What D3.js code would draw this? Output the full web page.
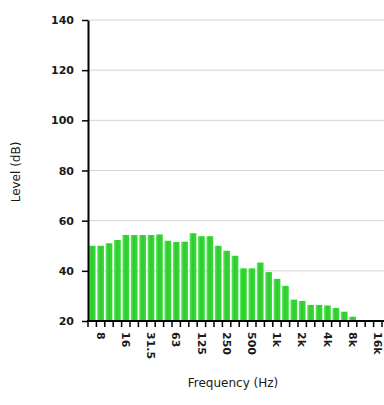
<!DOCTYPE html>
<html>
<head>
<meta charset="utf-8">
<script src="https://cdn.jsdelivr.net/npm/d3@7"></script>
<style>
  html, body { margin: 0; padding: 0; background: #fff; }
  svg { display: block; }
  text { font-family: "DejaVu Sans", Verdana, sans-serif; fill: #1a1a1a; }
</style>
</head>
<body>
<script>
// Third-octave band centre frequencies (Hz)
const bands = ["6.3","8","10","12.5","16","20","25","31.5","40","50","63","80","100","125","160","200","250","315","400","500","630","800","1k","1.25k","1.6k","2k","2.5k","3.15k","4k","5k","6.3k","8k","10k","12.5k","16k","20k"];
// Labelled bands on the axis
const bandLabels = ["8","16","31.5","63","125","250","500","1k","2k","4k","8k","16k"];
// Levels (dB)
const levels = [50,50,51,52.3,54.3,54.3,54.3,54.3,54.5,52,51.5,51.6,55,53.8,53.8,50,48,46,41,41,43.3,39.5,36.8,34,28.5,28,26.4,26.4,26.2,25.2,23.7,21.7,20.4,20,20,20];
const yTicks = [20,40,60,80,100,120,140];
const gridValues = [40,60,80,100,120,140];

const W = 384, H = 405;
const mLeft = 88, mTop = 20, mBottom = 321;
const step = 8.4;

const svg = d3.select("body").append("svg").attr("width", W).attr("height", H);

const x = d3.scaleBand().domain(bands).range([mLeft, mLeft + bands.length * step]).paddingInner(0.2).paddingOuter(0.1);
const y = d3.scaleLinear().domain([20, 140]).range([mBottom, mTop]);

// gridlines
svg.append("g").selectAll("line").data(gridValues).join("line")
  .attr("x1", mLeft).attr("x2", W)
  .attr("y1", d => y(d)).attr("y2", d => y(d))
  .attr("stroke", "#d4d4d4").attr("stroke-width", 1);

// gradient for bars
const defs = svg.append("defs");
const grad = defs.append("linearGradient").attr("id", "barGrad").attr("x1", "0").attr("x2", "1").attr("y1", "0").attr("y2", "0");
grad.append("stop").attr("offset", "0%").attr("stop-color", "#5ee85e");
grad.append("stop").attr("offset", "40%").attr("stop-color", "#2dcc2d");
grad.append("stop").attr("offset", "100%").attr("stop-color", "#3ad83a");

// bars
svg.append("g").selectAll("rect").data(bands).join("rect")
  .attr("x", d => x(d))
  .attr("width", x.bandwidth())
  .attr("y", (d, i) => y(levels[i]))
  .attr("height", (d, i) => y(20) - y(levels[i]))
  .attr("fill", "url(#barGrad)");

// y axis
const yAxis = d3.axisLeft(y).tickValues(yTicks).tickSize(6).tickSizeOuter(0).tickPadding(8);
const gy = svg.append("g").attr("transform", `translate(${mLeft},0)`).call(yAxis);
gy.select(".domain").attr("stroke", "#000").attr("stroke-width", 2);
gy.selectAll(".tick line").attr("stroke", "#000").attr("stroke-width", 1.5);
gy.selectAll(".tick text").style("font-size", "11px").style("font-weight", "bold").attr("fill", "#1a1a1a");

// x axis: baseline, boundary ticks, rotated labels
svg.append("line").attr("x1", mLeft - 1).attr("x2", W).attr("y1", mBottom).attr("y2", mBottom)
  .attr("stroke", "#000").attr("stroke-width", 2);
const boundaries = bands.map(b => x(b) - x.step() * x.paddingInner() / 2);
boundaries.push(x(bands[bands.length - 1]) + x.bandwidth() + x.step() * x.paddingInner() / 2);
svg.append("g").selectAll("line").data(boundaries).join("line")
  .attr("x1", d => d).attr("x2", d => d)
  .attr("y1", mBottom).attr("y2", mBottom + 6)
  .attr("stroke", "#000").attr("stroke-width", 1.5);

svg.append("g").selectAll("text").data(bandLabels).join("text")
  .attr("transform", d => `translate(${x(d) + x.bandwidth() / 2},${mBottom + 11}) rotate(90)`)
  .attr("text-anchor", "start")
  .attr("dy", "0.35em")
  .style("font-size", "11px")
  .style("font-weight", "bold")
  .text(d => d);

// axis titles
svg.append("text")
  .attr("transform", `translate(20,172) rotate(-90)`)
  .attr("text-anchor", "middle")
  .style("font-size", "12px")
  .text("Level (dB)");
svg.append("text")
  .attr("x", 233).attr("y", 387)
  .attr("text-anchor", "middle")
  .style("font-size", "12px")
  .text("Frequency (Hz)");
</script>
</body>
</html>
